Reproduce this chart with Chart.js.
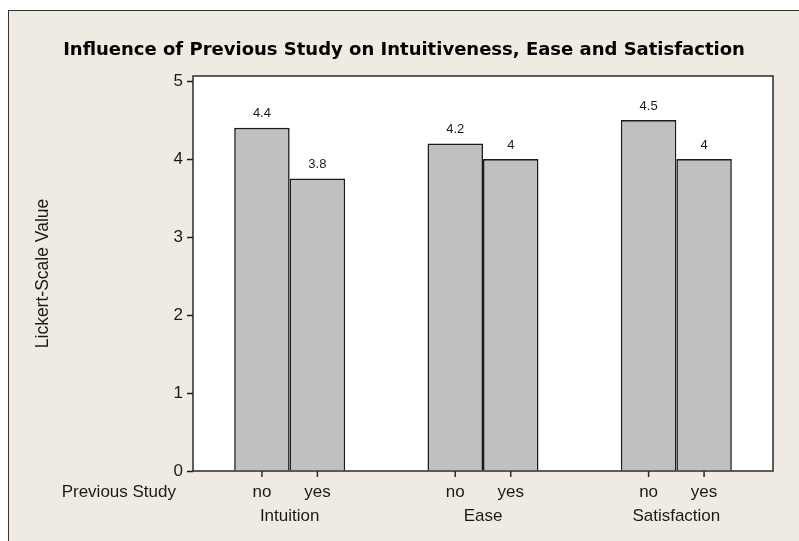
<!DOCTYPE html>
<html>
<head>
<meta charset="utf-8">
<script src="https://cdn.jsdelivr.net/npm/chart.js@4"></script>
<style>
  body { margin: 0; background: #fff; }
  #wrap { position: absolute; left: 8px; top: 10px; width: 790px; height: 530px;
          border-left: 1px solid #333; border-top: 1px solid #333; background: #efebe2; }
  canvas { display: block; }
</style>
</head>
<body>
<div id="wrap"><canvas id="chart" width="790" height="530"></canvas></div>
<script>
// valeurs
const categories = ['Intuition', 'Ease', 'Satisfaction'];
const groups = ['no', 'yes'];
const noValues = [4.4, 4.2, 4.5];
const yesValues = [3.75, 4.0, 4.0];
const yTicks = [0, 1, 2, 3, 4, 5];

const FONT = 'Liberation Sans, Arial, sans-serif';
const TITLE_FONT = 'DejaVu Sans, Verdana, sans-serif';
const INK = '#1a1a1a';

const barStyle = {
  backgroundColor: '#c0c0c0',
  borderColor: INK,
  borderWidth: 1.6,
  barPercentage: 1.0,
  categoryPercentage: 0.574
};

// fond blanc de la zone de tracé, cadre, graduations et étiquettes des barres
const decor = {
  id: 'decor',
  beforeDraw(chart) {
    const a = chart.chartArea, c = chart.ctx;
    c.save();
    c.fillStyle = '#fff';
    c.fillRect(a.left, a.top, a.right - a.left, a.bottom - a.top);
    c.restore();
  },
  afterDatasetsDraw(chart) {
    const a = chart.chartArea, c = chart.ctx;
    c.save();
    c.strokeStyle = '#2a2a2a';
    c.lineWidth = 1.5;
    c.strokeRect(a.left, a.top, a.right - a.left, a.bottom - a.top);
    c.fillStyle = INK;
    c.textAlign = 'center';
    c.textBaseline = 'middle';
    chart.data.datasets.forEach((ds, i) => {
      chart.getDatasetMeta(i).data.forEach((bar, j) => {
        // valeur au-dessus de la barre
        c.font = '13px ' + FONT;
        c.fillText(String(Math.round(ds.data[j] * 10) / 10), bar.x, bar.y - 14);
        // petite graduation sous l'axe
        c.beginPath();
        c.moveTo(bar.x, a.bottom);
        c.lineTo(bar.x, a.bottom + 6);
        c.lineWidth = 1.5;
        c.stroke();
        c.font = '17px ' + FONT;
        c.fillText(ds.label, bar.x, a.bottom + 21);
      });
    });
    c.textAlign = 'right';
    c.font = '17px ' + FONT;
    c.fillText('Previous Study', 167, a.bottom + 21);
    c.restore();
  }
};

new Chart(document.getElementById('chart'), {
  type: 'bar',
  data: {
    labels: categories,
    datasets: [
      Object.assign({ label: groups[0], data: noValues }, barStyle),
      Object.assign({ label: groups[1], data: yesValues }, barStyle)
    ]
  },
  options: {
    responsive: false,
    animation: false,
    events: [],
    layout: { padding: 0 },
    plugins: {
      legend: { display: false },
      tooltip: { enabled: false },
      colors: { enabled: false },
      title: {
        display: true,
        text: 'Influence of Previous Study on Intuitiveness, Ease and Satisfaction',
        color: '#000',
        font: { family: TITLE_FONT, size: 18, weight: 'bold' },
        padding: { top: 29, bottom: 14.4 }
      }
    },
    scales: {
      x: {
        afterFit(s) { s.height = 70; },
        grid: { display: true, drawOnChartArea: false, drawTicks: false },
        border: { display: false },
        ticks: { color: INK, padding: 34.8, font: { family: FONT, size: 17 } }
      },
      y: {
        min: 0,
        max: 5.065,
        afterFit(s) { s.width = 184; },
        afterBuildTicks(s) { s.ticks = yTicks.map(v => ({ value: v })); },
        grid: { drawOnChartArea: false, tickLength: 6, tickColor: INK, tickWidth: 1.5 },
        border: { display: false },
        ticks: { color: INK, padding: 4, font: { family: FONT, size: 17 } },
        title: {
          display: true,
          text: 'Lickert-Scale Value',
          color: INK,
          font: { family: FONT, size: 17.5 },
          padding: { top: 23.5, bottom: 0 }
        }
      },
      // axe vide à droite : réserve la marge sans décentrer le titre
      yRight: {
        position: 'right',
        afterFit(s) { s.width = 26; },
        grid: { display: false },
        border: { display: false },
        ticks: { display: false }
      }
    }
  },
  plugins: [decor]
});
</script>
</body>
</html>
